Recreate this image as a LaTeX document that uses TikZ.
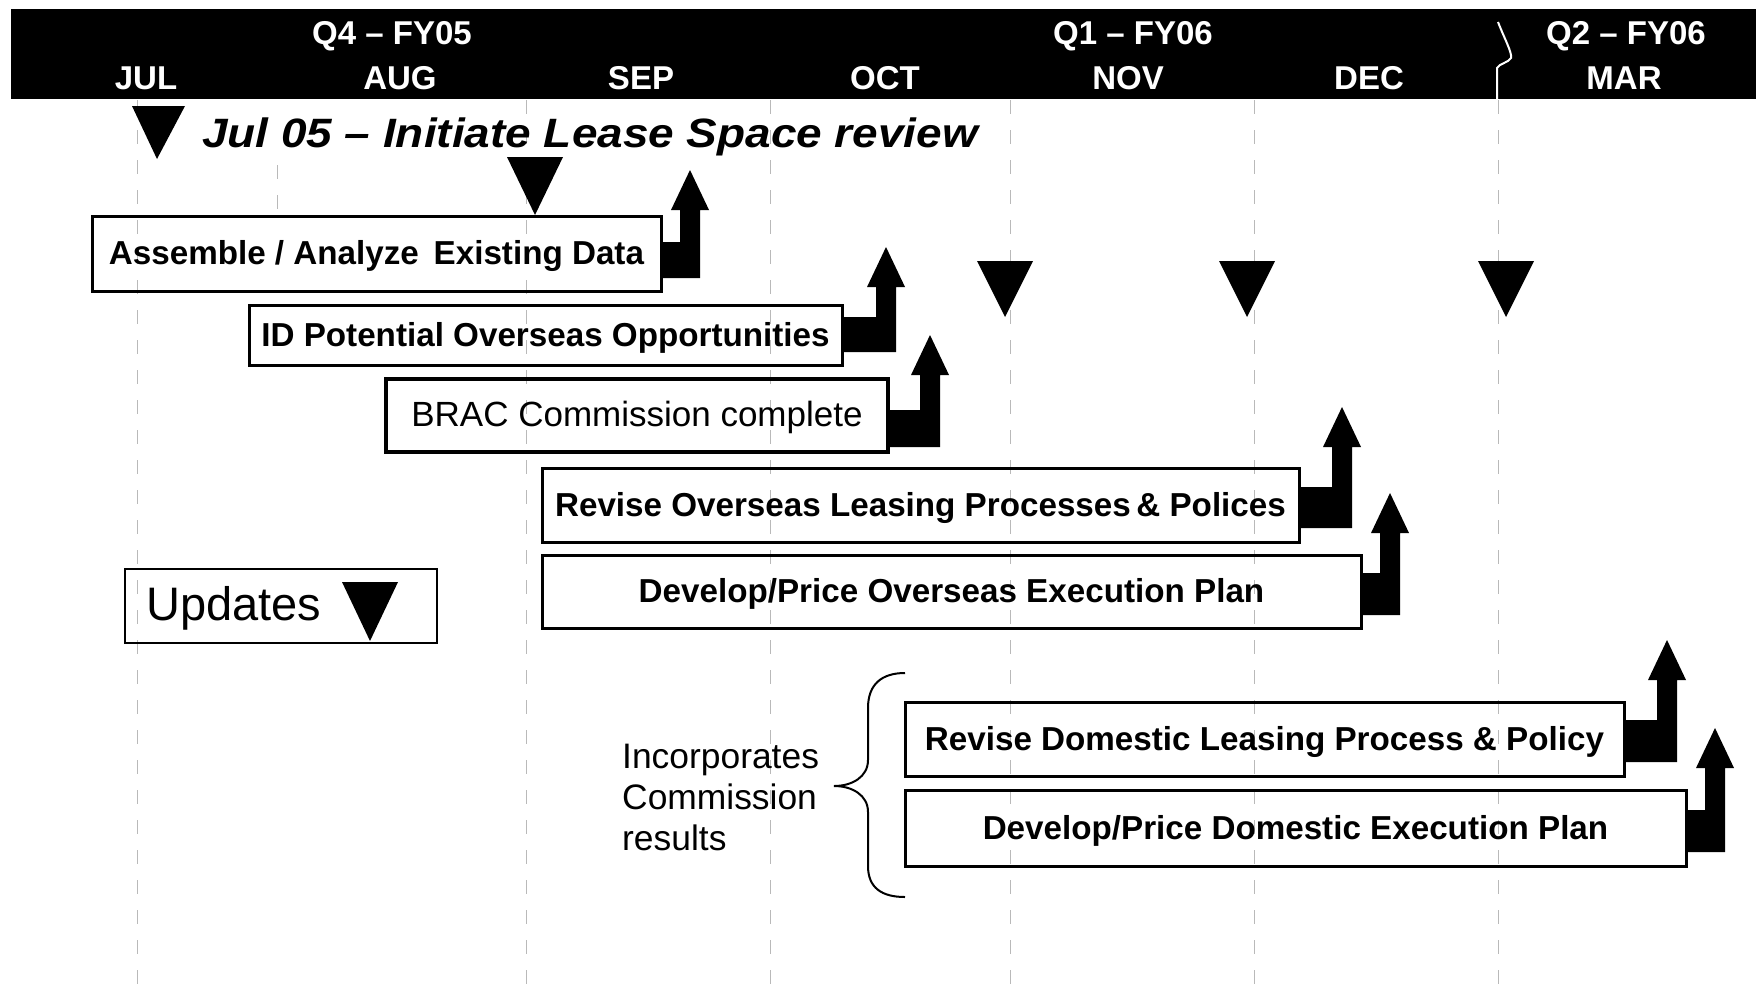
\documentclass[tikz,border=0pt]{standalone}
\usepackage{fontspec}
\setmainfont{Liberation Sans}
\newfontfamily\titlefont[FakeStretch=1.12]{Liberation Sans}
\begin{document}
\begin{tikzpicture}[x=1pt,y=-1pt,
  hdr/.style={text=white,font=\bfseries\fontsize{33}{36}\selectfont,inner sep=0pt},
  taskbox/.style={draw,line width=3pt,inner sep=0pt,text height=24pt,text depth=2pt,font=\bfseries\fontsize{33.2}{38}\selectfont},
  gridline/.style={gray!55,line width=1pt,dash pattern=on 14pt off 16pt},
  tri/.style={fill=black}]
\useasboundingbox (0,0) rectangle (1756,999);
% grid lines
\foreach \gx in {137,526,770,1010,1254,1498}
  \draw[gridline] (\gx,100) -- (\gx,999);
\draw[gridline] (277,165) -- (277,215);
% header bar
\fill[black] (11,9) rectangle (1756,99);
\draw[white,line width=2pt] (1498,22) .. controls (1505,40) and (1512,52) .. (1511,58)
  .. controls (1508,63) and (1500,63) .. (1497,68) -- (1497,99);
\node[hdr] (q4) at (392,36) {Q4 – FY05};
\node[hdr] (q1) at (1133,36) {Q1 – FY06};
\node[hdr] (q2) at (1626,36) {Q2 – FY06};
\node[hdr] (jul) at (146,78) {JUL};
\node[hdr] (aug) at (400,78) {AUG};
\node[hdr] (sep) at (641,78) {SEP};
\node[hdr] (oct) at (885,78) {OCT};
\node[hdr] (nov) at (1128,78) {NOV};
\node[hdr] (dec) at (1369,78) {DEC};
\node[hdr] (mar) at (1624,78) {MAR};
% title
\node[font=\titlefont\bfseries\itshape\fontsize{41}{46}\selectfont,inner sep=0pt] (title) at (590,137) {Jul 05 – Initiate Lease Space review};
% milestone triangles
\fill[tri] (132,106) -- (185,106) -- (157,159) -- cycle;
\fill[tri] (507,157) -- (563,157) -- (535,215) -- cycle;
\fill[tri] (977,261) -- (1033,261) -- (1005,317) -- cycle;
\fill[tri] (1219,261) -- (1275,261) -- (1247,317) -- cycle;
\fill[tri] (1478,261) -- (1534,261) -- (1506,317) -- cycle;
% task boxes
\node[taskbox,minimum width=569,minimum height=75] (b1) at (376.5,253.5) {Assemble / Analyze\, Existing Data};
\node[taskbox,minimum width=593,minimum height=60] (b2) at (545.5,335) {ID Potential Overseas Opportunities};
\node[taskbox,line width=4pt,minimum width=502,minimum height=73,font=\fontsize{35}{38}\selectfont] (b3) at (637,415.5) {BRAC Commission complete};
\node[taskbox,minimum width=757,minimum height=74] (b4) at (920.5,505) {Revise Overseas Leasing Processes\,\& Polices};
\node[taskbox,minimum width=819,minimum height=73] (b5) at (951.5,591.5) {Develop/Price Overseas Execution Plan};
\node[taskbox,minimum width=719,minimum height=74] (b6) at (1264.5,739) {Revise Domestic Leasing Process \& Policy};
\node[taskbox,minimum width=781,minimum height=76] (b7) at (1295.5,828) {Develop/Price Domestic Execution Plan};
% corner arrows
\newcommand\cornarrow[5]{%
  \fill (#1.east |- 0,#2) -- (#4-20,#2) -- (#4-20,#5+40) -- (#4-29,#5+40) -- (#4-10,#5)
     -- (#4+9,#5+40) -- (#4,#5+40) -- (#4,#3) -- (#1.east |- 0,#3) -- cycle;}
\cornarrow{b1}{242}{278}{700}{170}
\cornarrow{b2}{317}{352}{896}{247}
\cornarrow{b3}{410}{447}{940}{335}
\cornarrow{b4}{487}{528}{1352}{407}
\cornarrow{b5}{573}{615}{1400}{493}
\cornarrow{b6}{720}{762}{1677}{640}
\cornarrow{b7}{810}{852}{1725}{728}
% updates legend
\node[draw,line width=2pt,minimum width=312,minimum height=74,inner sep=0pt] (upd) at (281,606) {};
\node[font=\fontsize{47}{52}\selectfont,inner sep=0pt,anchor=west] (updt) at (146,608) {Updates};
\fill[tri] (342,582) -- (398,582) -- (370,641) -- cycle;
% brace and note
\draw[line width=2pt] (905,673) .. controls (882,673) and (868,684) .. (868,708) -- (868,760)
  .. controls (868,777) and (852,786) .. (834,786)
  .. controls (852,786) and (868,795) .. (868,812) -- (868,866)
  .. controls (868,888) and (882,897) .. (905,897);
\node[font=\fontsize{35.4}{41}\selectfont,align=left,anchor=west,inner sep=0pt] (note) at (622,797) {Incorporates\\Commission\\results};
\end{tikzpicture}
\end{document}
